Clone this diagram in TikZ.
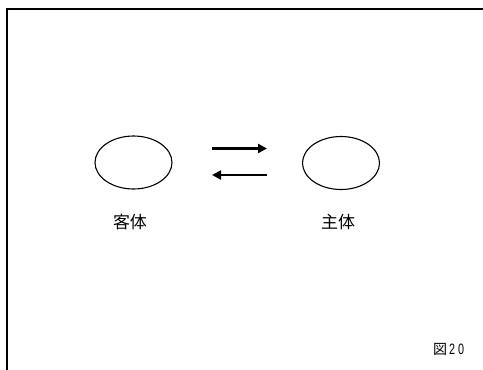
\documentclass[tikz,border=0pt]{standalone}
\usepackage{fontspec}
\newfontfamily\jpfont{Noto Sans CJK JP}
\newfontfamily\narrowfont[FakeStretch=0.72]{Liberation Sans}
\usetikzlibrary{arrows.meta,shapes.geometric}
\begin{document}
\begin{tikzpicture}[x=1pt,y=-1pt,
  frameline/.style={line width=2pt,line cap=rect},
  oval/.style={draw,line width=1.1pt,ellipse,minimum width=77pt,minimum height=53pt,inner sep=0pt},
  flowarrow/.style={line width=2.6pt,-{Triangle[length=9pt,width=9pt]}},
  lbl/.style={font=\jpfont\fontsize{17}{19}\selectfont,inner sep=0pt}]
\useasboundingbox (0,0) rectangle (483,370);
\fill[white] (0,0) rectangle (483,370);
\coordinate (tl) at (7,9);
\coordinate (tr) at (483,9);
\coordinate (bl) at (7,370);
\draw[frameline] (tr) -- (tl) -- (bl);
\node[oval] (obj) at (133.5,162.5) {};
\node[oval] (subj) at (341,163) {};
\coordinate (a1s) at (212,148.5);
\coordinate (a1e) at (267,148.5);
\coordinate (a2s) at (267,175);
\coordinate (a2e) at (212,175);
\draw[flowarrow] (a1s) -- (a1e);
\draw[flowarrow] (a2s) -- (a2e);
\node[lbl] (objl) at (130,222) {客体};
\node[lbl] (subjl) at (338,222) {主体};
\node[inner sep=0pt,anchor=west] (fig) at (433,349.5) {{\jpfont\fontsize{14}{16}\selectfont 図}\hspace{2pt}{\narrowfont\fontsize{15}{16}\selectfont 2\hspace{3pt}0}};
\end{tikzpicture}
\end{document}
